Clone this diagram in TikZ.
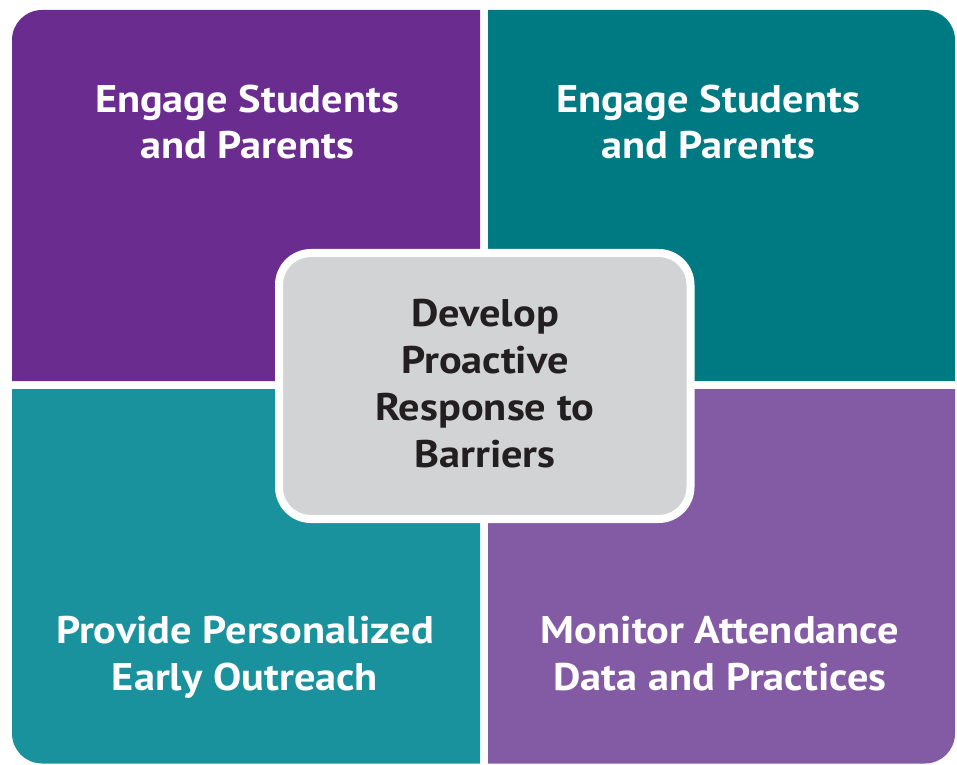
\documentclass[tikz,border=0pt]{standalone}
\usepackage{fontspec}
\setmainfont{PT Sans}[FakeStretch=1.1]
\definecolor{qtl}{RGB}{106,44,143}
\definecolor{qtr}{RGB}{0,122,130}
\definecolor{qbl}{RGB}{26,146,158}
\definecolor{qbr}{RGB}{131,91,165}
\definecolor{cgray}{RGB}{209,211,212}
\definecolor{ctext}{RGB}{35,31,32}
\begin{document}
\begin{tikzpicture}[x=1pt,y=1pt,
  qlabel/.style={text=white,align=center,font=\fontsize{38.5}{46.5}\selectfont\bfseries,anchor=base,inner sep=0pt},
  clabel/.style={text=ctext,align=center,font=\fontsize{38.5}{47}\selectfont\bfseries,anchor=base,inner sep=0pt},
  centerbox/.style={fill=cgray,draw=white,line width=8pt,rounded corners=32pt}]
\useasboundingbox (0,0) rectangle (957,764);
% quadrants
\fill[qtl] (12,383) -- (12,724) arc[start angle=180,end angle=90,radius=30] -- (480,754) -- (480,383) -- cycle;
\fill[qtr] (488,383) -- (488,754) -- (925,754) arc[start angle=90,end angle=0,radius=30] -- (955,383) -- cycle;
\fill[qbl] (12,375) -- (12,30.5) arc[start angle=180,end angle=270,radius=30] -- (480,0.5) -- (480,375) -- cycle;
\fill[qbr] (488,375) -- (488,0.5) -- (925,0.5) arc[start angle=270,end angle=360,radius=30] -- (955,375) -- cycle;
% center box
\path[centerbox] (279,245) rectangle (690.5,511);
% labels (anchor = baseline of last line)
\node[qlabel] (tl) at (247,605) {Engage Students\\and Parents};
\node[qlabel] (tr) at (708,605) {Engage Students\\and Parents};
\node[qlabel] (bl) at (245,74) {Provide Personalized\\Early Outreach};
\node[qlabel] (br) at (720,74) {Monitor Attendance\\Data and Practices};
\node[clabel] (center) at (485,297) {Develop\\Proactive\\Response to\\Barriers};
\end{tikzpicture}
\end{document}
